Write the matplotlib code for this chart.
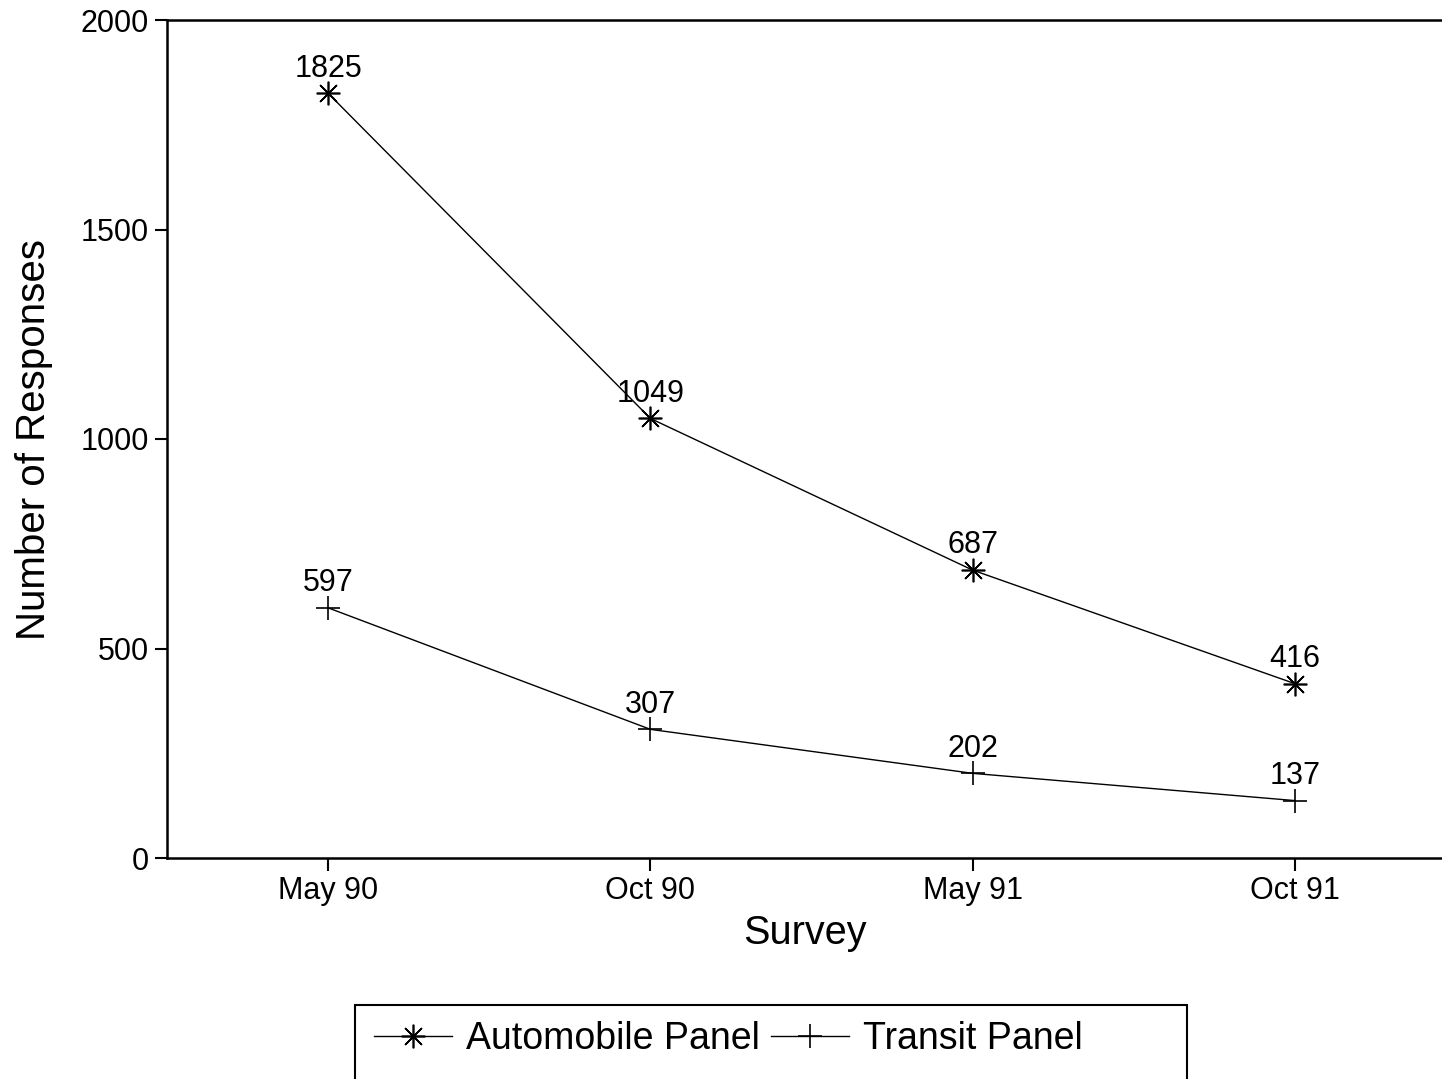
import matplotlib
matplotlib.use('Agg')
import matplotlib.pyplot as plt
from matplotlib.patches import Rectangle

# 数据
surveys = ['May 90', 'Oct 90', 'May 91', 'Oct 91']
auto_panel = [1825, 1049, 687, 416]
transit_panel = [597, 307, 202, 137]
y_ticks = [0, 500, 1000, 1500, 2000]

plt.rcParams['font.family'] = ['Liberation Sans', 'DejaVu Sans']

if __name__ == '__main__':
    fig = plt.figure(figsize=(14.42, 10.79), dpi=100)
    ax = fig.add_axes([167 / 1442, 1 - 858 / 1079, 1 - 167 / 1442, (858 - 20) / 1079])

    x = list(range(1, len(surveys) + 1))
    asterisk = (8, 2, 0)

    ax.plot(x, auto_panel, color='black', linewidth=1.0, marker=asterisk,
            markersize=17, markeredgewidth=1.2, label='Automobile Panel')
    ax.plot(x, transit_panel, color='black', linewidth=1.0, marker='+',
            markersize=17, markeredgewidth=1.2, label='Transit Panel')

    # 数据标签
    for xi, v in zip(x, auto_panel):
        ax.annotate(str(v), (xi, v), xytext=(0, 7), textcoords='offset points',
                    ha='center', va='bottom', fontsize=22)
    for xi, v in zip(x, transit_panel):
        ax.annotate(str(v), (xi, v), xytext=(0, 7), textcoords='offset points',
                    ha='center', va='bottom', fontsize=22)

    ax.set_xlim(0.5, 4.456)
    ax.set_ylim(0, 2000)
    ax.set_xticks(x)
    ax.set_xticklabels(surveys)
    ax.set_yticks(y_ticks)

    ax.spines['right'].set_visible(False)
    for s in ['left', 'bottom', 'top']:
        ax.spines[s].set_linewidth(1.8)
    ax.tick_params(axis='both', direction='out', length=9, width=1.5,
                   labelsize=22, pad=4)

    ax.set_xlabel('Survey', fontsize=28.5, labelpad=6)
    ax.set_ylabel('Number of Responses', fontsize=29, labelpad=20)

    # 图例
    leg = fig.legend(loc='upper center', bbox_to_anchor=(728 / 1442, 1 - 987 / 1079),
                     ncol=2, frameon=False, fontsize=27, handlelength=2.1,
                     handletextpad=0.35, columnspacing=0.3)
    fig.add_artist(Rectangle((355 / 1442, -0.05), (1187 - 355) / 1442, 0.05 + 1 - 1005 / 1079,
                             transform=fig.transFigure, fill=False,
                             edgecolor='black', linewidth=1.5))

    fig.savefig('out.png', dpi=100)
